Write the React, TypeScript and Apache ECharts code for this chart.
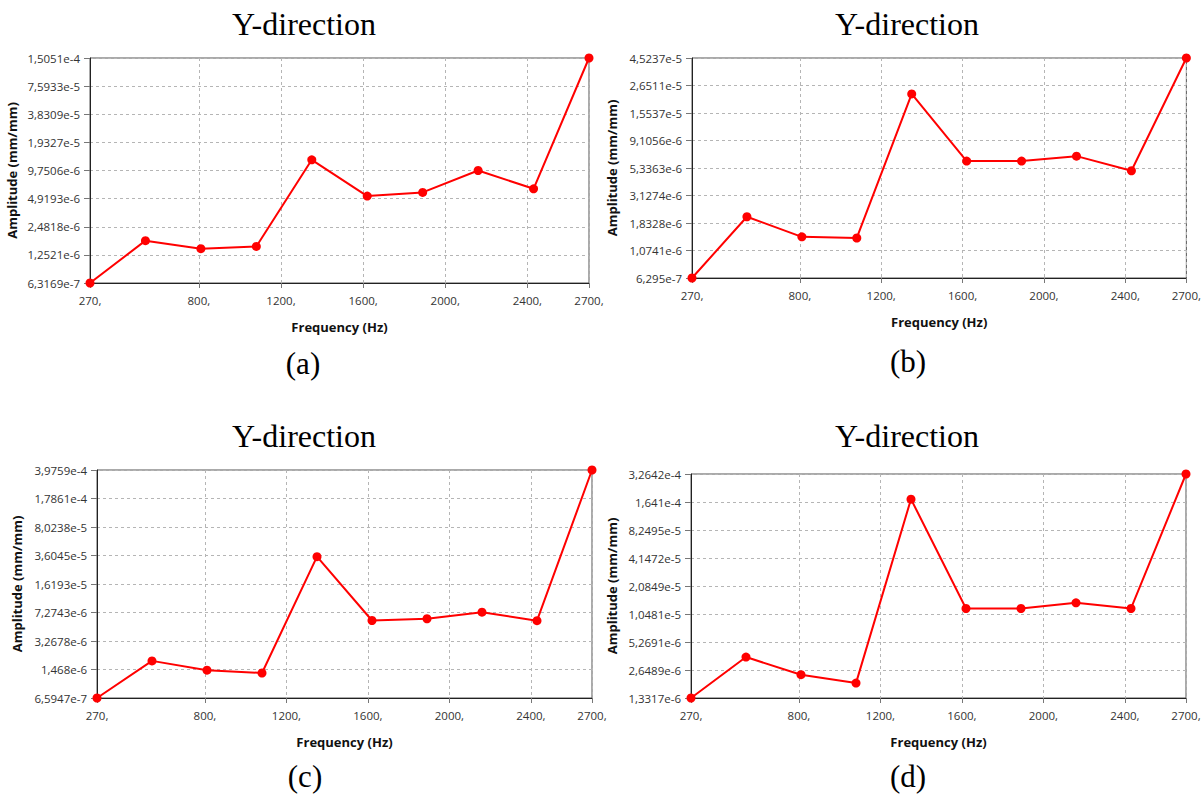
import React, { useEffect, useRef } from "react";
import * as echarts from "echarts";

// Frequencies (Hz) of the computed points
const frequencies = [270, 540, 810, 1080, 1350, 1620, 1890, 2160, 2430, 2700];
// X-axis tick values
const xTicks = [270, 800, 1200, 1600, 2000, 2400, 2700];

// Panel (a)
const ampA = [6.3169e-7, 1.769e-6, 1.455e-6, 1.537e-6, 1.265e-5, 5.23e-6, 5.72e-6, 9.75e-6, 6.25e-6, 1.5051e-4];
const yLabelsA = ["6,3169e-7", "1,2521e-6", "2,4818e-6", "4,9193e-6", "9,7506e-6", "1,9327e-5", "3,8309e-5", "7,5933e-5", "1,5051e-4"];
const rangeA = [6.3169e-7, 1.5051e-4];

// Panel (b)
const ampB = [6.295e-7, 2.07e-6, 1.4e-6, 1.37e-6, 2.25e-5, 6.1e-6, 6.1e-6, 6.72e-6, 5.06e-6, 4.5237e-5];
const yLabelsB = ["6,295e-7", "1,0741e-6", "1,8328e-6", "3,1274e-6", "5,3363e-6", "9,1056e-6", "1,5537e-5", "2,6511e-5", "4,5237e-5"];
const rangeB = [6.295e-7, 4.5237e-5];

// Panel (c)
const ampC = [6.5947e-7, 1.87e-6, 1.44e-6, 1.33e-6, 3.49e-5, 5.81e-6, 6.1e-6, 7.33e-6, 5.78e-6, 3.9759e-4];
const yLabelsC = ["6,5947e-7", "1,468e-6", "3,2678e-6", "7,2743e-6", "1,6193e-5", "3,6045e-5", "8,0238e-5", "1,7861e-4", "3,9759e-4"];
const rangeC = [6.5947e-7, 3.9759e-4];

// Panel (d)
const ampD = [1.3317e-6, 3.64e-6, 2.36e-6, 1.92e-6, 1.76e-4, 1.2e-5, 1.2e-5, 1.38e-5, 1.2e-5, 3.2642e-4];
const yLabelsD = ["1,3317e-6", "2,6489e-6", "5,2691e-6", "1,0481e-5", "2,0849e-5", "4,1472e-5", "8,2495e-5", "1,641e-4", "3,2642e-4"];
const rangeD = [1.3317e-6, 3.2642e-4];

const titleText = "Y-direction";
const xName = "Frequency (Hz)";
const yName = "Amplitude (mm/mm)";
const captions = ["(a)", "(b)", "(c)", "(d)"];

// layout (positions only)
const layout = [
  { grid: { left: 90, top: 58, width: 499, height: 225 }, title: [304, 24], caption: [303, 363], yGap: 72 },
  { grid: { left: 692, top: 58, width: 495, height: 220 }, title: [907, 24], caption: [908, 361], yGap: 74 },
  { grid: { left: 97, top: 470, width: 495, height: 228 }, title: [304, 436], caption: [305, 776], yGap: 74 },
  { grid: { left: 691, top: 474, width: 495, height: 224 }, title: [907, 436], caption: [908, 776], yGap: 73 },
];

const panels = [
  { values: ampA, labels: yLabelsA, range: rangeA },
  { values: ampB, labels: yLabelsB, range: rangeB },
  { values: ampC, labels: yLabelsC, range: rangeC },
  { values: ampD, labels: yLabelsD, range: rangeD },
];

const SANS = '"Open Sans", "Noto Sans", sans-serif';
const SERIF = '"Liberation Serif", "DejaVu Serif", serif';

export default function App() {
  const ref = useRef<HTMLDivElement>(null);

  useEffect(() => {
    if (!ref.current) return;
    const chart = echarts.init(ref.current, undefined, { renderer: "svg" });
    const steps = 8;

    const grids: any[] = [];
    const xAxes: any[] = [];
    const yAxes: any[] = [];
    const series: any[] = [];
    const graphics: any[] = [];

    panels.forEach((p, i) => {
      const L = layout[i];
      const lnMin = Math.log(p.range[0]);
      const lnSpan = Math.log(p.range[1]) - lnMin;
      const toPos = (v: number) => ((Math.log(v) - lnMin) / lnSpan) * steps;

      grids.push({
        ...L.grid,
        containLabel: false,
        show: true,
        borderColor: "#555",
        borderWidth: 1,
        backgroundColor: "#fff",
      });

      xAxes.push({
        type: "value",
        gridIndex: i,
        min: 270,
        max: 2700,
        name: xName,
        nameLocation: "middle",
        nameGap: 37,
        nameTextStyle: { fontFamily: SANS, fontSize: 13, fontWeight: "bold", color: "#111" },
        axisLine: { show: true, lineStyle: { color: "#222", width: 1 } },
        axisTick: { show: true, length: 5, lineStyle: { color: "#777" }, customValues: xTicks },
        axisLabel: {
          customValues: xTicks,
          formatter: (v: number) => v + ",",
          fontFamily: SANS,
          fontSize: 11.5,
          color: "#333",
          margin: 11,
        },
        splitLine: { show: true, lineStyle: { color: "#b5b5b5", type: [3, 3], width: 1 } },
      });

      yAxes.push({
        type: "value",
        gridIndex: i,
        min: 0,
        max: steps,
        interval: 1,
        name: yName,
        nameLocation: "middle",
        nameGap: L.yGap,
        nameRotate: 90,
        nameTextStyle: { fontFamily: SANS, fontSize: 13, fontWeight: "bold", color: "#111" },
        axisLine: { show: true, lineStyle: { color: "#222", width: 1 } },
        axisTick: { show: true, length: 6, lineStyle: { color: "#777" } },
        axisLabel: {
          formatter: (v: number) => p.labels[Math.round(v)] ?? "",
          fontFamily: SANS,
          fontSize: 11.5,
          color: "#333",
          margin: 10,
        },
        splitLine: { show: true, lineStyle: { color: "#b5b5b5", type: [3, 3], width: 1 } },
      });

      series.push({
        type: "line",
        xAxisIndex: i,
        yAxisIndex: i,
        data: frequencies.map((f, j) => [f, toPos(p.values[j])]),
        symbol: "circle",
        symbolSize: 9,
        lineStyle: { color: "#ff0000", width: 2 },
        itemStyle: { color: "#ff0000" },
        clip: false,
        z: 5,
      });

      graphics.push({
        type: "text",
        x: L.title[0],
        y: L.title[1],
        style: {
          text: titleText,
          fontFamily: SERIF,
          fontSize: 32,
          fill: "#000",
          align: "center",
          verticalAlign: "middle",
        },
      });
      graphics.push({
        type: "text",
        x: L.caption[0],
        y: L.caption[1],
        style: {
          text: captions[i],
          fontFamily: SERIF,
          fontSize: 31,
          fill: "#000",
          align: "center",
          verticalAlign: "middle",
        },
      });
    });

    chart.setOption({
      animation: false,
      backgroundColor: "#fff",
      grid: grids,
      xAxis: xAxes,
      yAxis: yAxes,
      series,
      graphic: graphics,
    });

    return () => chart.dispose();
  }, []);

  return (
    <div
      ref={ref}
      style={{ position: "absolute", left: 0, top: 0, width: 1204, height: 794, background: "#fff" }}
    />
  );
}
